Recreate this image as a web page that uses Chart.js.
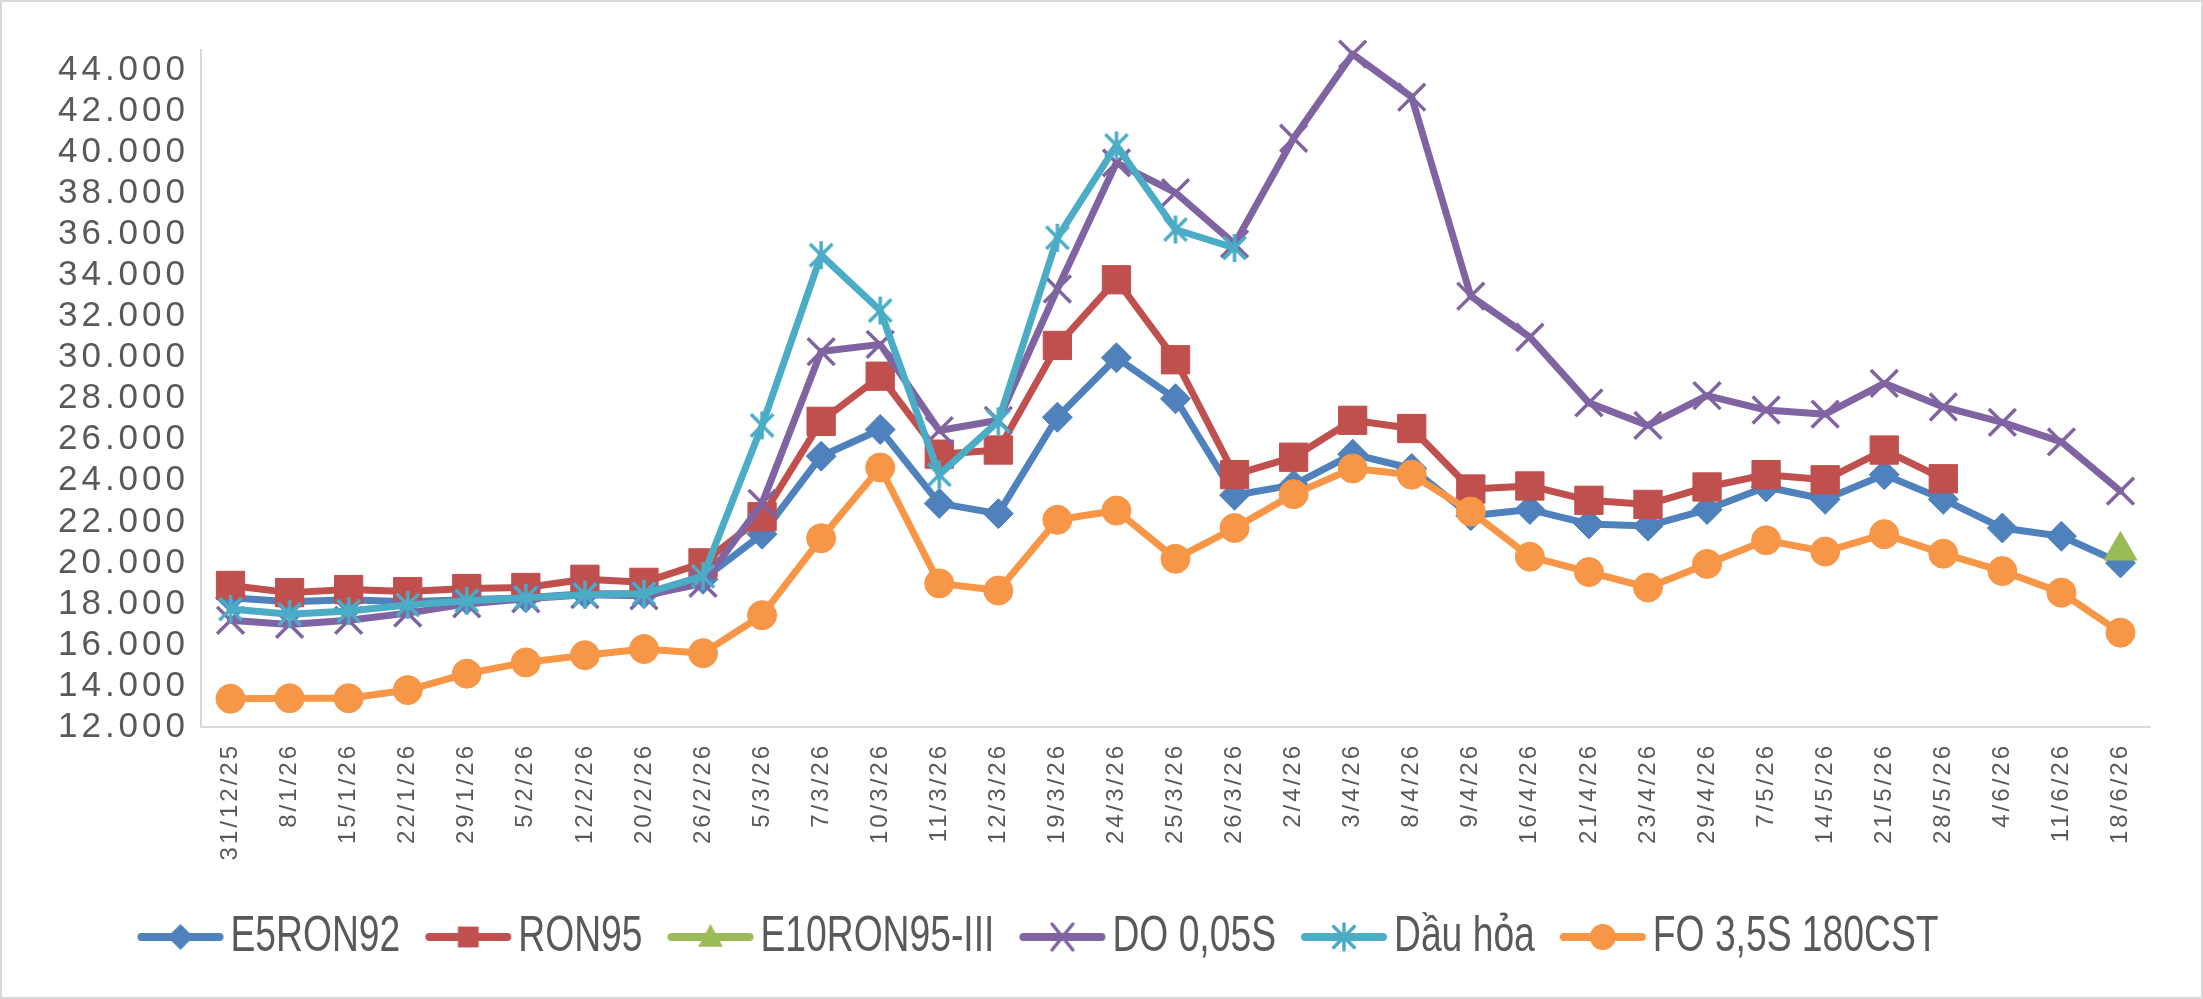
<!DOCTYPE html>
<html>
<head>
<meta charset="utf-8">
<script src="https://cdn.jsdelivr.net/npm/chart.js@4.4.1/dist/chart.umd.min.js"></script>
<style>
html,body{margin:0;padding:0;background:#fff;overflow:hidden}
#wrap{width:2203px;height:999px;position:relative}
canvas{display:block}
</style>
</head>
<body>
<div id="wrap"><canvas id="c" width="2203" height="999"></canvas></div>
<script>
// ---------- DATA ----------
const categories = ['31/12/25','8/1/26','15/1/26','22/1/26','29/1/26','5/2/26','12/2/26','20/2/26','26/2/26','5/3/26','7/3/26','10/3/26','11/3/26','12/3/26','19/3/26','24/3/26','25/3/26','26/3/26','2/4/26','3/4/26','8/4/26','9/4/26','16/4/26','21/4/26','23/4/26','29/4/26','7/5/26','14/5/26','21/5/26','28/5/26','4/6/26','11/6/26','18/6/26'];

const seriesNames = ['E5RON92','RON95','E10RON95-III','DO 0,05S','Dầu hỏa','FO 3,5S 180CST'];

const e5ron92 = [18300,18100,18200,18100,18200,18300,18500,18500,19200,21400,25200,26500,22900,22400,27100,30000,28000,23300,23800,25300,24600,22300,22600,21900,21800,22600,23700,23100,24300,23100,21700,21300,20000];
const ron95 = [18900,18550,18700,18600,18750,18800,19200,19050,20000,22250,26900,29100,25300,25500,30600,33800,29900,24300,25150,26950,26550,23600,23750,23050,22850,23700,24300,24050,25500,24100,null,null,null];
const e10ron95 = [null,null,null,null,null,null,null,null,null,null,null,null,null,null,null,null,null,null,null,null,null,null,null,null,null,null,null,null,null,null,null,null,20600];
const do005s = [17200,17000,17200,17550,18000,18250,18450,18400,19000,22900,30300,30650,26450,26950,33350,39500,38050,35550,40700,44800,42700,33000,31000,27800,26700,28150,27450,27250,28750,27600,26850,25900,23500];
const dauHoa = [17750,17500,17650,17950,18150,18300,18450,18500,19350,26700,35000,32300,24300,26900,35850,40350,36250,35350,null,null,null,null,null,null,null,null,null,null,null,null,null,null,null];
const fo35s = [13380,13400,13400,13800,14600,15150,15500,15800,15600,17450,21200,24650,19000,18650,22100,22550,20200,21700,23350,24600,24300,22500,20300,19550,18800,19950,21100,20550,21400,20450,19600,18550,16600];

const yTickValues = [12000,14000,16000,18000,20000,22000,24000,26000,28000,30000,32000,34000,36000,38000,40000,42000,44000];
const yTickLabels = ['12.000','14.000','16.000','18.000','20.000','22.000','24.000','26.000','28.000','30.000','32.000','34.000','36.000','38.000','40.000','42.000','44.000'];

// ---------- STYLE ----------
const colors = ['#4F81BD','#C0504D','#9BBB59','#8064A2','#4BACC6','#F79646'];
const markerKinds = ['diamond','square','triangle','x','star','circle'];
const textColor = '#595959';
const axisColor = '#D9D9D9';
const legendNarrow = 0.745;

function drawMarker(g, kind, cx, cy, color, s) {
  g.save();
  g.fillStyle = color; g.strokeStyle = color;
  g.beginPath();
  if (kind === 'diamond') {
    g.moveTo(cx, cy - s); g.lineTo(cx + s, cy); g.lineTo(cx, cy + s); g.lineTo(cx - s, cy); g.closePath(); g.fill();
  } else if (kind === 'square') {
    g.rect(cx - s * 0.8, cy - s * 0.8, s * 1.6, s * 1.6); g.fill();
  } else if (kind === 'triangle') {
    g.moveTo(cx, cy - s); g.lineTo(cx + s * 0.95, cy + s * 0.75); g.lineTo(cx - s * 0.95, cy + s * 0.75); g.closePath(); g.fill();
  } else if (kind === 'circle') {
    g.arc(cx, cy, s, 0, Math.PI * 2); g.fill();
  } else if (kind === 'x') {
    g.lineWidth = 3.5;
    g.moveTo(cx - s * 0.8, cy - s); g.lineTo(cx + s * 0.8, cy + s);
    g.moveTo(cx + s * 0.8, cy - s); g.lineTo(cx - s * 0.8, cy + s); g.stroke();
  } else if (kind === 'star') {
    g.lineWidth = 3.5;
    g.moveTo(cx, cy - s); g.lineTo(cx, cy + s);
    g.moveTo(cx - s * 0.8, cy - s * 0.8); g.lineTo(cx + s * 0.8, cy + s * 0.8);
    g.moveTo(cx + s * 0.8, cy - s * 0.8); g.lineTo(cx - s * 0.8, cy + s * 0.8); g.stroke();
  }
  g.restore();
}

function makeStarPoint(color) {
  const c = document.createElement('canvas');
  c.width = 32; c.height = 32;
  drawMarker(c.getContext('2d'), 'star', 16, 16, color, 14);
  return c;
}

function makeLegendImage(color, kind) {
  const c = document.createElement('canvas');
  c.width = 88; c.height = 40;
  const g = c.getContext('2d');
  g.strokeStyle = color; g.lineWidth = 8; g.lineCap = 'round';
  g.beginPath(); g.moveTo(5, 20); g.lineTo(83, 20); g.stroke();
  drawMarker(g, kind, 44, 20, color, 13);
  return c;
}

const legendImages = colors.map((c, i) => makeLegendImage(c, markerKinds[i]));
const starPoint = makeStarPoint(colors[4]);

const seriesData = [e5ron92, ron95, e10ron95, do005s, dauHoa, fo35s];
const pointStyles = ['rectRot', 'rect', 'triangle', 'crossRot', starPoint, 'circle'];
const pointRadii = [15, 20, 19, 19, 15, 14.5];
const pointBorders = [1, 1, 1, 3.5, 1, 1];

const datasets = seriesData.map((d, i) => ({
  label: seriesNames[i],
  data: d,
  borderColor: colors[i],
  backgroundColor: colors[i],
  borderWidth: 7,
  borderJoinStyle: 'round',
  borderCapStyle: 'round',
  tension: 0,
  spanGaps: false,
  pointStyle: pointStyles[i],
  pointRadius: pointRadii[i],
  pointHoverRadius: pointRadii[i],
  pointBackgroundColor: colors[i],
  pointBorderColor: colors[i],
  pointBorderWidth: pointBorders[i],
  order: -i,
  clip: false
}));

function withNarrowText(ctx, fn, dx, dy) {
  const m = CanvasRenderingContext2D.prototype.measureText;
  const f = CanvasRenderingContext2D.prototype.fillText;
  ctx.measureText = function (t) { const r = m.call(this, t); return { width: r.width * legendNarrow, actualBoundingBoxAscent: r.actualBoundingBoxAscent, actualBoundingBoxDescent: r.actualBoundingBoxDescent }; };
  ctx.fillText = function (t, x, y) { this.save(); this.translate(x, y); this.scale(legendNarrow, 1); f.call(this, t, 0, 0); this.restore(); };
  ctx.save();
  if (dx || dy) ctx.translate(dx || 0, dy || 0);
  try { return fn(); } finally { ctx.restore(); delete ctx.measureText; delete ctx.fillText; }
}

const bgPlugin = {
  id: 'bg',
  beforeDraw(chart) {
    const ctx = chart.ctx;
    ctx.save();
    ctx.fillStyle = '#ffffff';
    ctx.fillRect(0, 0, chart.width, chart.height);
    ctx.strokeStyle = axisColor;
    ctx.lineWidth = 2;
    ctx.strokeRect(1, 1, chart.width - 2, chart.height - 2);
    ctx.restore();
    const s = chart.scales.x;
    if (s && !s._spaced) {
      const orig = s.drawLabels.bind(s);
      s.drawLabels = function (a) { chart.ctx.save(); chart.ctx.letterSpacing = '3px'; orig(a); chart.ctx.restore(); };
      s._spaced = true;
    }
    const y = chart.scales.y;
    if (y && !y._spaced) {
      const origY = y.drawLabels.bind(y);
      y.drawLabels = function (a) { chart.ctx.save(); chart.ctx.letterSpacing = '4px'; origY(a); chart.ctx.restore(); };
      y._spaced = true;
    }
  }
};

const chart = new Chart(document.getElementById('c'), {
  type: 'line',
  data: { labels: categories, datasets },
  options: {
    responsive: false,
    animation: false,
    devicePixelRatio: 1,
    layout: { padding: { left: 0, right: 53, top: 50, bottom: 31 } },
    plugins: {
      tooltip: { enabled: false },
      legend: {
        position: 'bottom',
        labels: {
          usePointStyle: true,
          pointStyleWidth: 50,
          boxHeight: 40,
          padding: 43,
          color: textColor,
          font: { family: "'Liberation Sans', Arial, sans-serif", size: 50 },
          generateLabels(chart) {
            return chart.data.datasets.map((ds, i) => ({
              text: ds.label,
              fillStyle: colors[i],
              strokeStyle: colors[i],
              lineWidth: 0,
              pointStyle: legendImages[i],
              fontColor: textColor,
              hidden: false,
              datasetIndex: i
            }));
          }
        }
      }
    },
    scales: {
      x: {
        type: 'category',
        offset: true,
        grid: { display: false },
        border: { display: true, color: axisColor, width: 2 },
        ticks: {
          autoSkip: false,
          minRotation: 90,
          maxRotation: 90,
          padding: 8,
          color: textColor,
          font: { family: "'Liberation Sans', Arial, sans-serif", size: 24 }
        },
        afterFit(scale) { scale.height = 138; }
      },
      y: {
        min: 12000,
        max: 45000,
        grid: { display: false },
        border: { display: true, color: axisColor, width: 2 },
        afterBuildTicks(scale) { scale.ticks = yTickValues.map(v => ({ value: v })); },
        ticks: {
          autoSkip: false,
          padding: 4,
          color: textColor,
          font: { family: "'Liberation Sans', Arial, sans-serif", size: 35 },
          callback(v) { const k = yTickValues.indexOf(v); return k >= 0 ? yTickLabels[k] : ''; }
        },
        afterFit(scale) { scale.width = 201; }
      }
    }
  },
  plugins: [bgPlugin]
});

const lg = chart.legend;
const origFit = lg.fit.bind(lg);
const origDraw = lg.draw.bind(lg);
lg.fit = function () { return withNarrowText(chart.ctx, origFit, 0, 0); };
lg.draw = function () { return withNarrowText(chart.ctx, origDraw, -28, 4); };
chart.update();
</script>
</body>
</html>
